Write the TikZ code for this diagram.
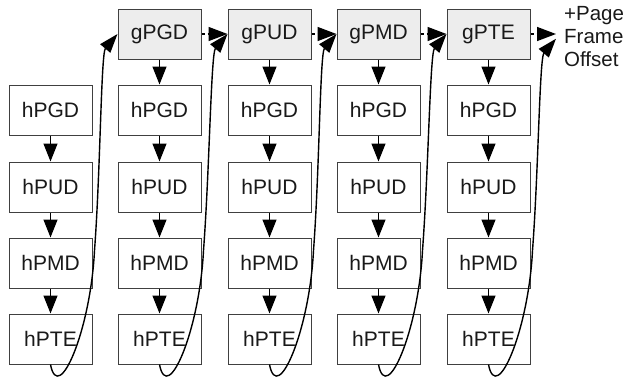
\documentclass[tikz,border=0pt]{standalone}
\usepackage{fontspec}
\setmainfont{Liberation Sans}
\usetikzlibrary{arrows.meta,calc}
\begin{document}
\begin{tikzpicture}[x=1pt,y=-1pt,
  box/.style={draw=black!75, line width=1pt, minimum width=83pt, minimum height=50pt, inner sep=0pt, font=\fontsize{21}{25}\selectfont, text=black!90},
  gbox/.style={box, fill=black!7},
  downarrow/.style={-{Triangle[length=18pt,width=14pt]}, line width=1.4pt},
  dasharrow/.style={-{Triangle[length=19pt,width=14pt]}, line width=1.4pt, dash pattern=on 3pt off 3pt},
  curvearrow/.style={-{Triangle[length=19pt,width=13pt]}, line width=1.4pt}
]
\useasboundingbox (0,0) rectangle (624,381);
\foreach \i/\x in {0/50.5,1/159.5,2/269.5,3/378.5,4/488.5} {
  \node[box] (h1-\i) at (\x,110) {hPGD};
  \node[box] (h2-\i) at (\x,187) {hPUD};
  \node[box] (h3-\i) at (\x,263) {hPMD};
  \node[box] (h4-\i) at (\x,339) {hPTE};
  \draw[downarrow] (h1-\i) -- (h2-\i);
  \draw[downarrow] (h2-\i) -- (h3-\i);
  \draw[downarrow] (h3-\i) -- (h4-\i);
}
\node[gbox] (g-1) at (159.5,34) {gPGD};
\node[gbox] (g-2) at (269.5,34) {gPUD};
\node[gbox] (g-3) at (378.5,34) {gPMD};
\node[gbox] (g-4) at (488.5,34) {gPTE};
\foreach \i in {1,...,4} { \draw[downarrow] (g-\i) -- (h1-\i); }
\node[anchor=north west, inner xsep=8pt, inner ysep=0pt, text=black!90] (pfo) at (556,4) {\fontsize{20.5}{23}\selectfont\begin{tabular}{@{}l@{}}+Page\\Frame\\Offset\end{tabular}};
\draw[dasharrow] (g-1.east) -- (g-2.west);
\draw[dasharrow] (g-2.east) -- (g-3.west);
\draw[dasharrow] (g-3.east) -- (g-4.west);
\draw[dasharrow] (g-4.east) -- (pfo.west |- g-4.east);
\foreach \i/\j in {0/g-1,1/g-2,2/g-3,3/g-4,4/pfo} {
  \coordinate (m-\i) at ($(h4-\i.south)+(44,-114)$);
  \draw[curvearrow] (h4-\i.south) .. controls +(8,41) and +(-4,80) .. (m-\i)
     .. controls +(6,-80) and +(-16.5,19.5) .. (\j.west);
}
\end{tikzpicture}
\end{document}
